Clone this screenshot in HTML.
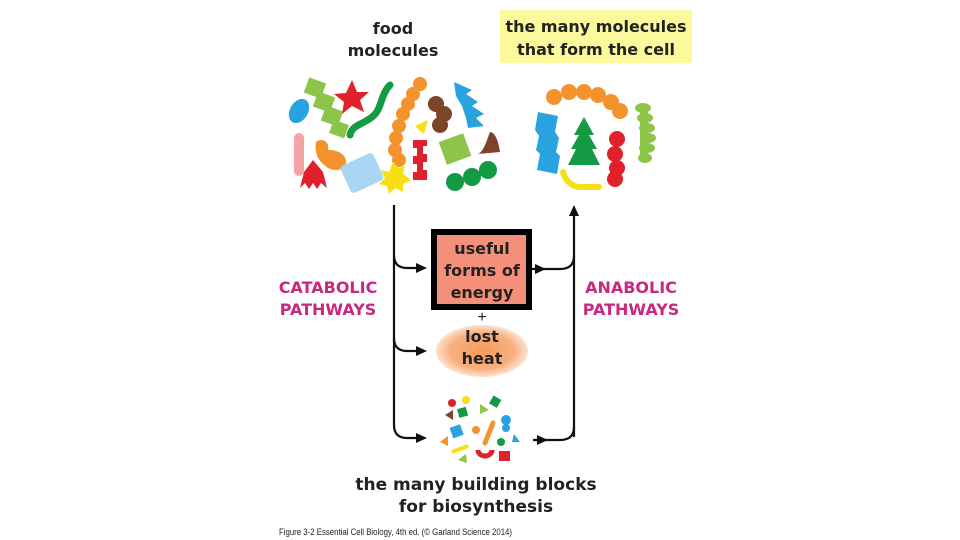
<!DOCTYPE html>
<html><head><style>
body{margin:0;background:#fff}
svg{display:block}
.b{font-family:"DejaVu Sans","Liberation Sans",sans-serif;font-weight:bold}
</style></head><body>
<svg width="960" height="540" viewBox="0 0 960 540" xmlns="http://www.w3.org/2000/svg">
<defs>
<radialGradient id="hg" cx="50%" cy="50%" r="50%">
<stop offset="0" stop-color="#f59a5c"/><stop offset="0.7" stop-color="#f8b080"/><stop offset="1" stop-color="#fde3d0"/>
</radialGradient>
</defs>
<rect x="500" y="10" width="192" height="53" fill="#fbf99c"/>
<text class="b" x="596" y="32" font-size="16" text-anchor="middle" fill="#222">the many molecules</text>
<text class="b" x="596" y="55" font-size="16" text-anchor="middle" fill="#222">that form the cell</text>
<text class="b" x="393" y="34" font-size="16" text-anchor="middle" fill="#222">food</text>
<text class="b" x="393" y="56" font-size="16" text-anchor="middle" fill="#222">molecules</text>

<!-- food molecules shapes -->
<ellipse cx="299" cy="111" rx="9" ry="13" fill="#29a3e0" transform="rotate(30 299 111)"/>
<rect x="294" y="133" width="10" height="43" rx="5" fill="#f3a3a8"/>
<g fill="#8cc54a">
<rect x="306" y="80" width="18" height="16" transform="rotate(20 315 88)"/>
<rect x="315" y="94" width="18" height="16" transform="rotate(20 324 102)"/>
<rect x="323" y="108" width="18" height="16" transform="rotate(20 332 116)"/>
<rect x="331" y="122" width="16" height="14" transform="rotate(20 339 129)"/>
</g>
<path d="M352,80 l5,12 12,0 -9,8 4,12 -12,-6 -10,8 2,-12 -10,-8 12,-1z" fill="#e0202a"/>
<path d="M390,85 c-10,10 -8,25 -18,32 c-10,8 -20,8 -22,18" stroke="#149a42" stroke-width="7" fill="none" stroke-linecap="round"/>
<g fill="#f4922e"><circle cx="420" cy="84" r="7"/><circle cx="413" cy="94" r="7"/><circle cx="408" cy="104" r="7"/><circle cx="403" cy="114" r="7"/><circle cx="399" cy="126" r="7"/><circle cx="396" cy="138" r="7"/><circle cx="395" cy="150" r="7"/><circle cx="399" cy="160" r="7"/></g>
<path d="M316,142 c6,-5 14,0 12,8 c10,0 18,4 18,12 c0,8 -10,10 -18,6 c-8,-6 -14,-12 -12,-26z" fill="#f4922e"/>
<path d="M313,160 l10,12 4,16 -6,-5 -4,6 -4,-6 -4,6 -4,-6 -5,5 4,-16z" fill="#e0202a"/>
<rect x="344" y="158" width="36" height="30" rx="4" fill="#a8d6f3" transform="rotate(-25 362 173)"/>
<path d="M393,162 l6,6 6,-2 -2,8 8,6 -8,4 0,8 -8,-4 -6,6 -2,-8 -8,-2 6,-6 -4,-8 8,2z" fill="#f8df14"/>
<path d="M413,140 h14 v6 h-4 v8 h4 v8 h-4 v8 h4 v10 h-14 v-8 h4 v-8 h-4 v-8 h4 v-8 h-4z" fill="#e0202a"/>
<path d="M415,126 l13,-6 -4,14z" fill="#f8df14"/>
<g fill="#7d4429"><circle cx="436" cy="104" r="8"/><circle cx="444" cy="114" r="8"/><circle cx="440" cy="125" r="8"/></g>
<path d="M454,82 l18,8 -6,4 12,8 -6,4 12,8 -8,4 8,8 -16,2 -2,-10 -4,-12 -6,-10z" fill="#29a3e0"/>
<rect x="442" y="137" width="26" height="24" fill="#8cc54a" transform="rotate(-20 455 149)"/>
<path d="M478,154 c6,-2 10,-18 12,-22 c4,0 8,6 10,20 z" fill="#7d4429"/>
<g fill="#149a42"><circle cx="455" cy="182" r="9"/><circle cx="472" cy="177" r="9"/><circle cx="488" cy="170" r="9"/></g>

<!-- cell molecules -->
<g fill="#f4922e"><circle cx="554" cy="97" r="8"/><circle cx="569" cy="92" r="8"/><circle cx="584" cy="92" r="8"/><circle cx="598" cy="95" r="8"/><circle cx="611" cy="102" r="8"/><circle cx="620" cy="111" r="8"/></g>
<path d="M538,112 l20,4 -3,16 4,6 -3,14 4,4 -3,18 -20,-4 3,-16 -4,-4 3,-14 -4,-6z" fill="#29a3e0"/>
<path d="M584,117 l-10,18 5,0 -8,14 5,0 -8,16 32,0 -8,-16 5,0 -8,-14 5,0z" fill="#149a42"/>
<g fill="#e0202a"><circle cx="617" cy="139" r="8"/><circle cx="615" cy="154" r="8"/><circle cx="617" cy="168" r="8"/><circle cx="615" cy="179" r="8"/></g>
<g fill="#8cc54a"><ellipse cx="643" cy="108" rx="8" ry="5"/><ellipse cx="645" cy="118" rx="8" ry="5"/><ellipse cx="647" cy="128" rx="8" ry="5"/><ellipse cx="648" cy="138" rx="8" ry="5"/><ellipse cx="647" cy="148" rx="8" ry="5"/><ellipse cx="645" cy="158" rx="7" ry="5"/><rect x="640" y="106" width="8" height="54"/></g>
<path d="M563,172 c2,8 8,14 16,15 h20" stroke="#f8df14" stroke-width="6" fill="none" stroke-linecap="round"/>

<!-- connectors -->
<g stroke="#111" stroke-width="2.2" fill="none">
<path d="M394,205 V425 Q394,438 407,438 H418"/>
<path d="M394,255 Q394,268 407,268 H418"/>
<path d="M394,338 Q394,351 407,351 H418"/>
<path d="M574,437 V214"/>
<path d="M533,440 H560 Q574,440 574,427"/>
<path d="M531,269 H560 Q574,269 574,256"/>
</g>
<g fill="#111">
<path d="M416,263 l11,5 -11,5z M416,346 l11,5 -11,5z M416,433 l11,5 -11,5z"/>
<path d="M535,264 l11,5 -11,5z M537,435 l11,5 -11,5z"/>
<path d="M569,216 l5,-11 5,11z"/>
</g>

<rect x="434" y="232" width="95" height="75" fill="#f4907a" stroke="#000" stroke-width="6"/>
<text class="b" x="482" y="254" font-size="16" text-anchor="middle" fill="#222">useful</text>
<text class="b" x="482" y="276" font-size="16" text-anchor="middle" fill="#222">forms of</text>
<text class="b" x="482" y="298" font-size="16" text-anchor="middle" fill="#222">energy</text>
<text x="482" y="322" font-size="16" text-anchor="middle" fill="#222" font-family="Liberation Sans,sans-serif">+</text>
<ellipse cx="482" cy="351" rx="46" ry="26" fill="url(#hg)"/>
<text class="b" x="482" y="342" font-size="16" text-anchor="middle" fill="#222">lost</text>
<text class="b" x="482" y="364" font-size="16" text-anchor="middle" fill="#222">heat</text>

<text class="b" x="328" y="293" font-size="16" text-anchor="middle" fill="#c8287f">CATABOLIC</text>
<text class="b" x="328" y="315" font-size="16" text-anchor="middle" fill="#c8287f">PATHWAYS</text>
<text class="b" x="631" y="293" font-size="16" text-anchor="middle" fill="#c8287f">ANABOLIC</text>
<text class="b" x="631" y="315" font-size="16" text-anchor="middle" fill="#c8287f">PATHWAYS</text>

<!-- building blocks -->
<circle cx="452" cy="403" r="4" fill="#e0202a"/>
<circle cx="466" cy="400" r="4" fill="#f8df14"/>
<rect x="491" y="397" width="9" height="9" fill="#149a42" transform="rotate(30 495 401)"/>
<path d="M445,415 l8,-5 0,10z" fill="#7d4429"/>
<rect x="458" y="408" width="9" height="9" fill="#149a42" transform="rotate(-15 462 412)"/>
<path d="M480,404 l9,6 -9,4z" fill="#8cc54a"/>
<circle cx="506" cy="420" r="5" fill="#29a3e0"/><circle cx="506" cy="428" r="4" fill="#29a3e0"/>
<rect x="451" y="426" width="11" height="11" fill="#29a3e0" transform="rotate(-20 456 431)"/>
<circle cx="476" cy="430" r="4" fill="#f4922e"/>
<path d="M493,423 l-8,20" stroke="#f4922e" stroke-width="5" stroke-linecap="round"/>
<circle cx="501" cy="442" r="4" fill="#149a42"/>
<path d="M514,434 l6,8 -8,0z" fill="#29a3e0"/>
<path d="M440,442 l8,-6 0,10z" fill="#f4922e"/>
<path d="M452,452 l16,-6" stroke="#f8df14" stroke-width="4"/>
<path d="M478,450 a7,6 0 0 0 14,0" stroke="#e0202a" stroke-width="5" fill="none"/>
<rect x="499" y="451" width="11" height="10" fill="#e0202a"/>
<path d="M458,460 l8,-6 1,9z" fill="#8cc54a"/>

<text class="b" x="476" y="490" font-size="17" text-anchor="middle" fill="#222">the many building blocks</text>
<text class="b" x="476" y="512" font-size="17" text-anchor="middle" fill="#222">for biosynthesis</text>
<text x="279" y="535" font-size="9" fill="#222" font-family="Liberation Sans Narrow,Liberation Sans,sans-serif" textLength="233" lengthAdjust="spacingAndGlyphs">Figure 3-2  Essential Cell Biology, 4th ed. (© Garland Science 2014)</text>
</svg>
</body></html>
